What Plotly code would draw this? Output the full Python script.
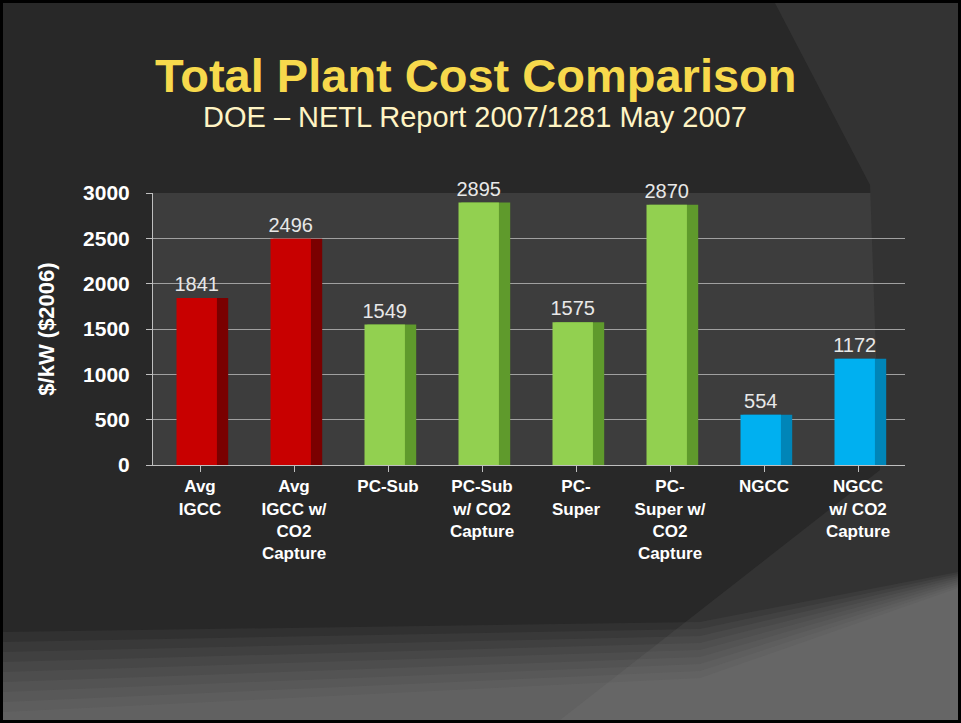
import plotly.graph_objects as go

# Total plant cost per technology ($/kW, 2006 dollars)
categories = [
    "Avg<br>IGCC",
    "Avg<br>IGCC w/<br>CO2<br>Capture",
    "PC-Sub",
    "PC-Sub<br>w/ CO2<br>Capture",
    "PC-<br>Super",
    "PC-<br>Super w/<br>CO2<br>Capture",
    "NGCC",
    "NGCC<br>w/ CO2<br>Capture",
]
costs = [1841, 2496, 1549, 2895, 1575, 2870, 554, 1172]
face_colors = ["#c80000", "#c80000", "#92d050", "#92d050",
               "#92d050", "#92d050", "#00b0f0", "#00b0f0"]
side_colors = ["#7a0000", "#7a0000", "#5f9a2c", "#5f9a2c",
               "#5f9a2c", "#5f9a2c", "#0085b8", "#0085b8"]
y_ticks = [0, 500, 1000, 1500, 2000, 2500, 3000]

FONT = "Arial"

W, H = 961, 723
L, R, T, B = 153, 56, 193, 258
pw, ph = W - L - R, H - T - B


def px(x, y):
    """Convert page pixels to paper coordinates."""
    return (x - L) / pw, 1 - (y - T) / ph


def path(points):
    pts = [px(x, y) for x, y in points]
    return "M " + " L ".join(f"{a:.4f},{b:.4f}" for a, b in pts) + " Z"


fig = go.Figure()

# darker right-hand face gives the columns some depth
fig.add_trace(go.Bar(
    x=categories, y=costs, width=0.52, offset=-0.22,
    marker=dict(color=side_colors, line=dict(width=0)),
    hoverinfo="skip", showlegend=False,
))
fig.add_trace(go.Bar(
    x=categories, y=costs, width=0.43, offset=-0.25,
    marker=dict(color=face_colors, line=dict(width=0)),
    text=[str(v) for v in costs], textposition="outside",
    constraintext="none",
    textfont=dict(family=FONT, size=20, color="#e8e8e8"),
    cliponaxis=False, showlegend=False,
))

shapes = [
    # textured panel on the right edge of the slide
    dict(type="path", xref="paper", yref="paper", layer="below",
         path=path([(775, 3), (958, 3), (958, 720), (560, 720), (880, 470), (870, 185)]),
         fillcolor="#333333", line=dict(width=0)),
]
# lighter gradient band along the bottom of the slide
for i in range(9):
    y0 = 632 + i * 10
    shapes.append(dict(
        type="path", xref="paper", yref="paper", layer="below",
        path=path([(3, y0), (700, y0 - 10 - i * 3), (958, y0 - 60 - i * 8),
                   (958, 720), (3, 720)]),
        fillcolor="rgba(140,140,140,0.09)", line=dict(width=0)))
# slide frame
shapes.append(dict(type="rect", xref="paper", yref="paper", layer="above",
                   x0=px(1.5, 0)[0], x1=px(959.5, 0)[0],
                   y0=px(0, 721.5)[1], y1=px(0, 1.5)[1],
                   line=dict(color="#000000", width=3)))

annotations = [
    dict(text="<b>Total Plant Cost Comparison</b>", xref="paper", yref="paper",
         x=px(476, 0)[0], y=px(0, 75)[1], showarrow=False,
         xanchor="center", yanchor="middle",
         font=dict(family=FONT, size=47, color="#f7d94c")),
    dict(text="DOE – NETL Report 2007/1281 May 2007", xref="paper", yref="paper",
         x=px(475, 0)[0], y=px(0, 117)[1], showarrow=False,
         xanchor="center", yanchor="middle",
         font=dict(family=FONT, size=29, color="#fff4c4")),
]

fig.update_layout(
    width=W, height=H,
    margin=dict(l=L, r=R, t=T, b=B),
    paper_bgcolor="#282828",
    plot_bgcolor="#3d3d3d",
    barmode="overlay",
    shapes=shapes,
    annotations=annotations,
    font=dict(family=FONT, color="#ffffff"),
    xaxis=dict(
        tickfont=dict(family=FONT, size=17, color="#ffffff", weight="bold"),
        showgrid=False, showline=True, linecolor="#bfbfbf", linewidth=1,
        ticks="outside", ticklen=6, tickcolor="#bfbfbf",
        tickangle=0, fixedrange=True,
    ),
    yaxis=dict(
        range=[0, 3000], tickvals=y_ticks,
        tickfont=dict(family=FONT, size=21, color="#ffffff", weight="bold"),
        ticklabelstandoff=12,
        title=dict(text="<b>$/kW ($2006)</b>", standoff=22,
                   font=dict(family=FONT, size=22, color="#ffffff")),
        showgrid=True, gridcolor="#a0a0a0", gridwidth=1,
        showline=True, linecolor="#bfbfbf", linewidth=1,
        ticks="outside", ticklen=6, tickcolor="#bfbfbf",
        zeroline=False, fixedrange=True,
    ),
)

fig.write_html("out.html")
